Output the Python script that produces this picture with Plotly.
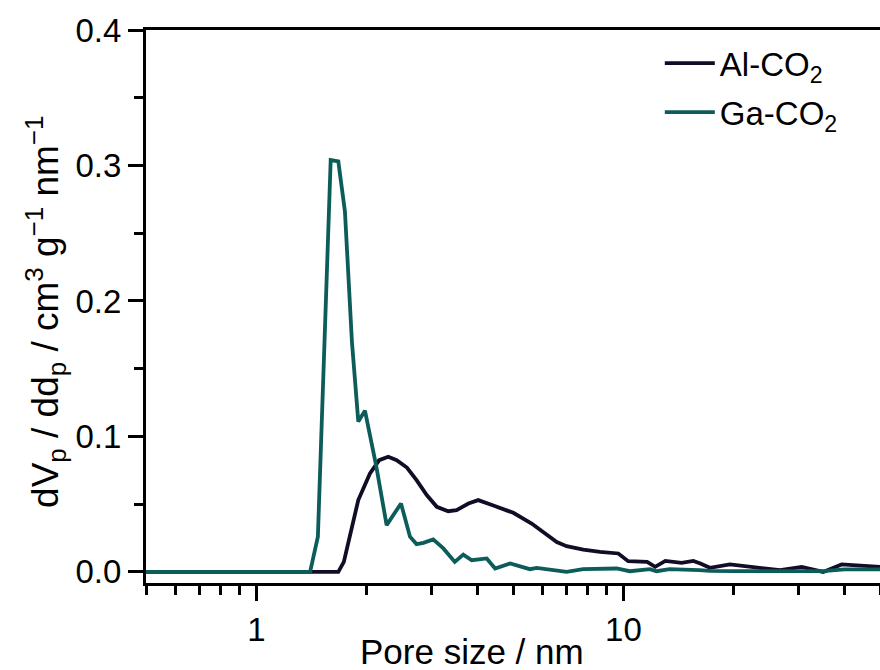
import plotly.graph_objects as go
import math

# ---- data ----
al_x = [0.5, 1.671, 1.73, 1.817, 1.894, 2.038, 2.16, 2.286, 2.41, 2.57, 2.73, 2.91, 3.10, 3.33, 3.51,
        3.78, 4.02, 4.42, 4.85, 5.01, 5.62, 6.05, 6.58, 7.0, 7.77, 8.63, 9.68, 10.3, 11.6, 12.2, 13.0,
        14.4, 15.5, 16.2, 17.2, 19.5, 22.1, 26.7, 30.6, 35.0, 39.3, 50.0]
al_y = [0, 0, 0.0074, 0.033, 0.053, 0.0727, 0.0825, 0.085, 0.0825, 0.077, 0.0677, 0.0567, 0.048, 0.0448, 0.0456,
        0.0505, 0.053, 0.049, 0.045, 0.0436, 0.0357, 0.0295, 0.022, 0.019, 0.0165, 0.0148, 0.0136, 0.0079, 0.0074, 0.0037, 0.0081,
        0.0066, 0.0081, 0.0062, 0.003, 0.0055, 0.0037, 0.0013, 0.0037, 0.0, 0.0055, 0.0037]

ga_x = [0.5, 1.40, 1.47, 1.593, 1.671, 1.742, 1.82, 1.894, 1.975, 2.12, 2.263, 2.476, 2.62, 2.73, 2.85,
        3.03, 3.23, 3.47, 3.66, 3.86, 4.24, 4.47, 4.91, 5.56, 5.80, 7.0, 7.76, 9.58, 10.4, 11.8,
        12.3, 13.35, 16.1, 17.2, 20.0, 26.0, 35.0, 40.0, 50.0]
ga_y = [0, 0, 0.026, 0.304, 0.303, 0.266, 0.17, 0.111, 0.119, 0.078, 0.0345, 0.0505, 0.026, 0.0205, 0.0214,
        0.024, 0.0173, 0.0074, 0.0128, 0.0086, 0.0099, 0.0025, 0.0062, 0.002, 0.003, 0.0, 0.002, 0.0025, 0.0005, 0.002,
        0.0005, 0.002, 0.0013, 0.0008, 0.0005, 0.0005, 0.0005, 0.0018, 0.0018]

x_major = [1, 10]
x_major_text = ["1", "10"]
x_minor = [0.5, 0.6, 0.7, 0.8, 0.9, 2, 3, 4, 5, 6, 7, 8, 9, 20, 30, 40, 50]
y_ticks = [0.0, 0.1, 0.2, 0.3, 0.4]

AL_COLOR = "#110d27"
GA_COLOR = "#0c5d59"
FONT = "Liberation Sans, Arial, sans-serif"
FS = 33

fig = go.Figure()
fig.add_trace(go.Scatter(x=al_x, y=al_y, mode="lines", name="Al-CO<sub>2</sub>", legendgroup="al",
                         line=dict(color=AL_COLOR, width=3.8)))
fig.add_trace(go.Scatter(x=ga_x, y=ga_y, mode="lines", name="Ga-CO<sub>2</sub>", legendgroup="ga",
                         line=dict(color=GA_COLOR, width=3.8)))

axis_common = dict(showline=True, linecolor="black", linewidth=3, showgrid=False, zeroline=False,
                   ticks="outside", ticklen=15, tickwidth=3, tickcolor="black",
                   tickfont=dict(family=FONT, size=FS, color="black"))

fig.update_xaxes(type="log", range=[math.log10(0.5), math.log10(50)], mirror=True,
                 tickmode="array", tickvals=x_major, ticktext=x_major_text,
                 minor=dict(tickmode="array", tickvals=x_minor, ticks="outside", ticklen=9,
                            tickwidth=3, tickcolor="black", showgrid=False),
                 **axis_common)
fig.update_yaxes(range=[-0.0082, 0.4], mirror=False, tickmode="array", tickvals=y_ticks,
                 tickformat=".1f",
                 minor=dict(dtick=0.05, ticks="outside", ticklen=9, tickwidth=3,
                            tickcolor="black", showgrid=False),
                 **axis_common)

fig.add_annotation(text="Pore size / nm", xref="paper", yref="paper", x=0.444, y=-0.124,
                   xanchor="center", yanchor="middle", showarrow=False,
                   font=dict(family=FONT, size=35, color="black"))
fig.add_annotation(text="dV<sub>p</sub> / dd<sub>p</sub> / cm<sup>3</sup> g<sup>\u22121</sup> nm<sup>\u22121</sup>",
                   xref="paper", yref="paper", x=-0.137, y=0.491, textangle=-90,
                   xanchor="center", yanchor="middle", showarrow=False,
                   font=dict(family=FONT, size=37, color="black"))

fig.update_layout(width=880, height=670, margin=dict(l=146, r=0, t=30, b=87),
                  paper_bgcolor="white", plot_bgcolor="white",
                  font=dict(family=FONT, size=FS, color="black"),
                  legend=dict(x=0.70, y=0.9905, xanchor="left", yanchor="top", itemwidth=50,
                              tracegroupgap=3,
                              bgcolor="rgba(0,0,0,0)", font=dict(family=FONT, size=FS, color="black")),
                  showlegend=True)

fig.write_html("out.html", config={"displayModeBar": False},
               post_script="document.body.style.margin='0px';document.body.style.overflow='hidden';")
